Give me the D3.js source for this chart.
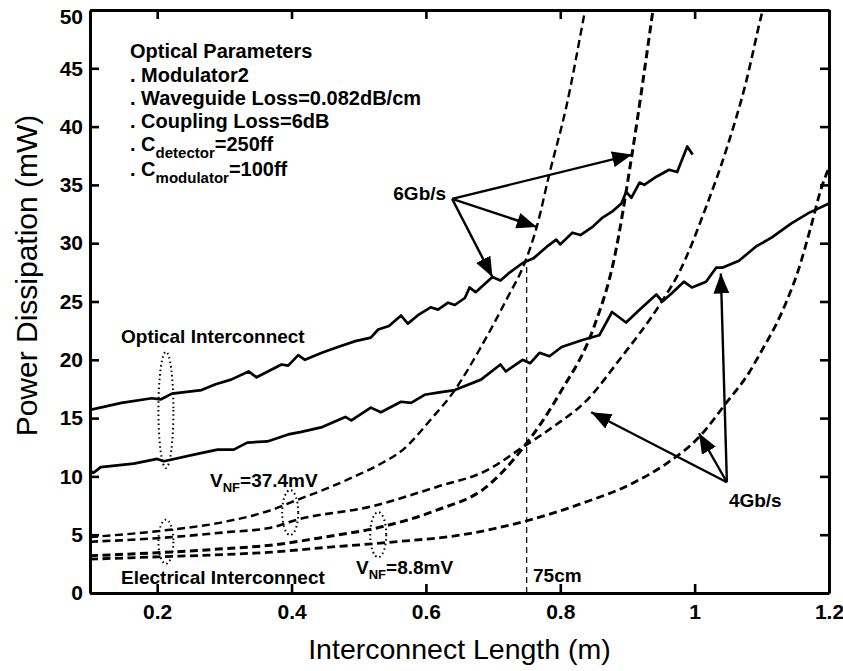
<!DOCTYPE html>
<html>
<head>
<meta charset="utf-8">
<script src="https://cdn.jsdelivr.net/npm/d3@7"></script>
<style>
  html, body { margin: 0; padding: 0; background: #fff; }
  svg { display: block; }
  text { font-family: "Liberation Sans", Arial, Helvetica, sans-serif; fill: #000; }
  .bold { font-weight: bold; }
</style>
</head>
<body>
<svg id="chart" width="843" height="671"></svg>
<script>
// ---- Data: power dissipation (mW) versus interconnect length (m) ----

// Optical interconnect, 6 Gb/s (solid, noisy)
const opt6X = [0.10,0.147,0.192,0.205,0.222,0.266,0.287,0.31,0.336,0.348,0.385,0.395,0.41,0.42,0.445,0.469,0.495,0.518,0.529,0.545,0.563,0.573,0.59,0.607,0.618,0.633,0.643,0.658,0.665,0.674,0.699,0.711,0.725,0.744,0.76,0.78,0.794,0.80,0.818,0.83,0.848,0.863,0.877,0.891,0.898,0.906,0.918,0.925,0.943,0.962,0.974,0.989,0.997];
const opt6Y = [15.7,16.3,16.7,16.6,17.1,17.4,17.9,18.3,19.0,18.5,19.6,19.5,20.4,20.0,20.6,21.1,21.6,21.9,22.6,22.9,23.8,23.1,23.9,24.5,24.3,24.9,24.7,25.3,26.2,25.8,27.1,26.8,27.5,28.3,28.7,29.7,30.3,29.9,30.9,30.7,31.4,32.2,32.7,33.4,34.4,33.9,35.2,35.0,35.7,36.3,36.1,38.3,37.6];

// Optical interconnect, 4 Gb/s
const opt4X = [0.10,0.105,0.116,0.165,0.2,0.21,0.265,0.29,0.314,0.334,0.364,0.395,0.413,0.444,0.48,0.489,0.518,0.533,0.563,0.578,0.598,0.62,0.643,0.682,0.711,0.719,0.744,0.755,0.769,0.784,0.802,0.833,0.858,0.877,0.898,0.918,0.943,0.952,0.966,0.984,0.996,1.017,1.032,1.041,1.066,1.091,1.115,1.144,1.17,1.2];
const opt4Y = [10.5,10.3,10.8,11.1,11.5,11.3,12.0,12.3,12.3,12.9,13.0,13.6,13.8,14.2,15.1,14.8,15.9,15.5,16.4,16.3,17.0,17.2,17.4,18.3,19.6,19.0,20.0,19.7,20.6,20.3,21.1,21.7,22.1,24.1,23.2,24.3,25.6,25.0,25.7,26.7,26.2,26.7,27.9,27.9,28.5,29.7,30.5,31.7,32.6,33.4];

// Electrical interconnect, 6 Gb/s, V_NF = 37.4 mV
const el6HiX = [0.1,0.2,0.3,0.369,0.409,0.45,0.492,0.53,0.566,0.606,0.643,0.68,0.722,0.747,0.765,0.784,0.809,0.836,0.85];
const el6HiY = [4.8,5.3,6.1,7.1,8.0,8.9,9.95,11.0,12.3,14.8,17.4,20.9,25.4,28.3,31.4,36.0,41.7,49.7,54];

// Electrical interconnect, 6 Gb/s, V_NF = 8.8 mV
const el6LoX = [0.1,0.2,0.3,0.369,0.45,0.536,0.616,0.69,0.744,0.8,0.85,0.88,0.907,0.937,0.95];
const el6LoY = [3.2,3.45,3.8,4.1,4.8,5.7,7.1,9.1,12.4,17.2,22.8,28.6,37.7,49.6,55];

// Electrical interconnect, 4 Gb/s, V_NF = 37.4 mV
const el4HiX = [0.1,0.2,0.3,0.369,0.409,0.517,0.616,0.69,0.744,0.788,0.839,0.888,0.95,0.977,1.017,1.047,1.076,1.1,1.115];
const el4HiY = [4.4,4.7,5.2,5.6,6.3,7.4,9.1,10.5,12.5,14.2,16.5,20.0,24.9,27.5,33.1,38.0,43.7,49.7,53];

// Electrical interconnect, 4 Gb/s, V_NF = 8.8 mV
const el4LoX = [0.1,0.2,0.3,0.369,0.45,0.536,0.665,0.744,0.833,0.907,0.958,1.007,1.047,1.081,1.1,1.121,1.136,1.155,1.173,1.189,1.2];
const el4LoY = [2.9,3.1,3.3,3.5,3.9,4.3,5.1,6.1,7.7,9.4,11.1,13.4,16.3,18.9,20.8,23.0,24.9,27.8,31.4,34.8,36.5];

// Axis ticks
const xTicks = [0.2, 0.4, 0.6, 0.8, 1.0, 1.2];
const yTicks = [0, 5, 10, 15, 20, 25, 30, 35, 40, 45, 50];

// Crossover length marker (m) and the value where it meets the 6 Gb/s curves
const crossLen = 0.75;
const crossPower = 28.3;

// ---- Layout ----
const svg = d3.select("#chart");
const W = 843, H = 671;
const m = { left: 90, right: 14, top: 10, bottom: 78 };
const x = d3.scaleLinear().domain([0.1, 1.2]).range([m.left, W - m.right]);
const y = d3.scaleLinear().domain([0, 50]).range([H - m.bottom, m.top]);

const defs = svg.append("defs");
defs.append("clipPath").attr("id", "plotClip")
  .append("rect")
  .attr("x", x(0.1)).attr("y", y(50))
  .attr("width", x(1.2) - x(0.1)).attr("height", y(0) - y(50));

defs.append("marker")
  .attr("id", "arrowHead")
  .attr("viewBox", "0 0 20 16")
  .attr("refX", 20).attr("refY", 8)
  .attr("markerUnits", "userSpaceOnUse")
  .attr("markerWidth", 20).attr("markerHeight", 16)
  .attr("orient", "auto")
  .append("path").attr("d", "M0,0 L20,8 L0,16 Z").attr("fill", "#000");

const plot = svg.append("g").attr("clip-path", "url(#plotClip)");

const zip = (xs, ys) => xs.map((v, i) => [v, ys[i]]);

// Electrical interconnect curves (dashed, smooth)
const smoothLine = d3.line().x(d => x(d[0])).y(d => y(d[1])).curve(d3.curveMonotoneX);
const elecSeries = [
  { xs: el6HiX, ys: el6HiY, w: 2.4 },
  { xs: el6LoX, ys: el6LoY, w: 3.0 },
  { xs: el4HiX, ys: el4HiY, w: 2.6 },
  { xs: el4LoX, ys: el4LoY, w: 2.8 }
];
elecSeries.forEach(s => {
  plot.append("path")
    .attr("d", smoothLine(zip(s.xs, s.ys)))
    .attr("fill", "none")
    .attr("stroke", "#000")
    .attr("stroke-width", s.w)
    .attr("stroke-dasharray", "8,4.5");
});

// Optical interconnect curves (solid)
const rawLine = d3.line().x(d => x(d[0])).y(d => y(d[1]));
[[opt6X, opt6Y], [opt4X, opt4Y]].forEach(([xs, ys]) => {
  plot.append("path")
    .attr("d", rawLine(zip(xs, ys)))
    .attr("fill", "none")
    .attr("stroke", "#000")
    .attr("stroke-width", 2.7)
    .attr("stroke-linejoin", "round");
});

// Vertical marker at 75 cm
svg.append("line")
  .attr("x1", x(crossLen)).attr("x2", x(crossLen))
  .attr("y1", y(0)).attr("y2", y(crossPower))
  .attr("stroke", "#000").attr("stroke-width", 1.2)
  .attr("stroke-dasharray", "6,4");

// ---- Axes (box with inward ticks) ----
const fmt = d3.format("~g");
const axStyle = g => {
  g.select(".domain").attr("stroke-width", 3);
  g.selectAll(".tick line").attr("stroke-width", 2.6);
  g.selectAll(".tick text")
    .attr("font-family", "'Liberation Sans', Arial, Helvetica, sans-serif")
    .attr("font-weight", "bold").attr("font-size", 21).attr("fill", "#000");
};
svg.append("g").attr("transform", `translate(0,${y(0)})`)
  .call(d3.axisBottom(x).tickValues(xTicks).tickFormat(fmt).tickSize(-9).tickSizeOuter(0).tickPadding(11))
  .call(axStyle);
svg.append("g").attr("transform", `translate(0,${y(50)})`)
  .call(d3.axisTop(x).tickValues(xTicks).tickFormat("").tickSize(-9).tickSizeOuter(0))
  .call(axStyle);
const yAxisG = svg.append("g").attr("transform", `translate(${x(0.1)},0)`)
  .call(d3.axisLeft(y).tickValues(yTicks).tickFormat(fmt).tickSize(-9).tickSizeOuter(0).tickPadding(7))
  .call(axStyle);
// keep the topmost label inside the page
yAxisG.selectAll(".tick text").filter(d => d === 50).attr("dy", "0.62em");
svg.append("g").attr("transform", `translate(${x(1.2)},0)`)
  .call(d3.axisRight(y).tickValues(yTicks).tickFormat("").tickSize(-9).tickSizeOuter(0))
  .call(axStyle);

// Axis titles
svg.append("text")
  .attr("x", (x(0.1) + x(1.2)) / 2).attr("y", 659)
  .attr("text-anchor", "middle").attr("font-size", 28.5)
  .text("Interconnect Length (m)");
svg.append("text")
  .attr("transform", `translate(37,${(y(0) + y(50)) / 2 - 26}) rotate(-90)`)
  .attr("text-anchor", "middle").attr("font-size", 30)
  .text("Power Dissipation (mW)");

// ---- Annotations ----
const note = svg.append("g").attr("class", "bold").attr("font-size", 20);
const paramX = 130;
note.append("text").attr("x", paramX).attr("y", 58).text("Optical Parameters");
note.append("text").attr("x", paramX).attr("y", 82).text(". Modulator2");
note.append("text").attr("x", paramX).attr("y", 105).text(". Waveguide Loss=0.082dB/cm");
note.append("text").attr("x", paramX).attr("y", 128).text(". Coupling Loss=6dB");
const cd = note.append("text").attr("x", paramX).attr("y", 151);
cd.append("tspan").text(". C");
cd.append("tspan").attr("font-size", 15).attr("dy", 7).text("detector");
cd.append("tspan").attr("dy", -7).text("=250ff");
const cm = note.append("text").attr("x", paramX).attr("y", 176);
cm.append("tspan").text(". C");
cm.append("tspan").attr("font-size", 15).attr("dy", 7).text("modulator");
cm.append("tspan").attr("dy", -7).text("=100ff");

// Rate labels and pointer arrows (data coordinates)
const arrows = [
  { from: [0.639, 33.8], to: [0.907, 37.6] },
  { from: [0.639, 33.8], to: [0.765, 31.4] },
  { from: [0.639, 33.8], to: [0.699, 27.1] },
  { from: [1.048, 9.5], to: [0.846, 15.5] },
  { from: [1.048, 9.5], to: [1.0065, 13.7] },
  { from: [1.048, 9.5], to: [1.039, 27.4] }
];
arrows.forEach(a => {
  svg.append("line")
    .attr("x1", x(a.from[0])).attr("y1", y(a.from[1]))
    .attr("x2", x(a.to[0])).attr("y2", y(a.to[1]))
    .attr("stroke", "#000").attr("stroke-width", 2.4)
    .attr("marker-end", "url(#arrowHead)");
});
note.append("text").attr("x", x(0.639) - 6).attr("y", y(33.8) + 1)
  .attr("text-anchor", "end").attr("font-size", 19).text("6Gb/s");
note.append("text").attr("x", x(1.048) + 2).attr("y", y(9.5) + 25)
  .attr("font-size", 19).text("4Gb/s");

note.append("text").attr("x", 121).attr("y", 343).attr("font-size", 19).text("Optical Interconnect");
note.append("text").attr("x", 121).attr("y", 584).attr("font-size", 19).text("Electrical Interconnect");
note.append("text").attr("x", 533).attr("y", 582).attr("font-size", 19).text("75cm");

const vnf1 = note.append("text").attr("x", 210).attr("y", 487).attr("font-size", 19);
vnf1.append("tspan").text("V");
vnf1.append("tspan").attr("font-size", 13).attr("dy", 5).text("NF");
vnf1.append("tspan").attr("dy", -5).text("=37.4mV");
const vnf2 = note.append("text").attr("x", 356).attr("y", 574).attr("font-size", 19);
vnf2.append("tspan").text("V");
vnf2.append("tspan").attr("font-size", 13).attr("dy", 5).text("NF");
vnf2.append("tspan").attr("dy", -5).text("=8.8mV");

// Dotted ellipses grouping the curves
const ellipses = [
  { cx: 0.213, cy: 15.7, rx: 7.5, ry: 58 },
  { cx: 0.213, cy: 4.4, rx: 7.5, ry: 22 },
  { cx: 0.398, cy: 6.9, rx: 8, ry: 22.5 },
  { cx: 0.529, cy: 5.0, rx: 8, ry: 22.5 }
];
ellipses.forEach(e => {
  svg.append("ellipse")
    .attr("cx", x(e.cx)).attr("cy", y(e.cy))
    .attr("rx", e.rx).attr("ry", e.ry)
    .attr("fill", "none").attr("stroke", "#000")
    .attr("stroke-width", 2).attr("stroke-dasharray", "1.5,3");
});
</script>
</body>
</html>
